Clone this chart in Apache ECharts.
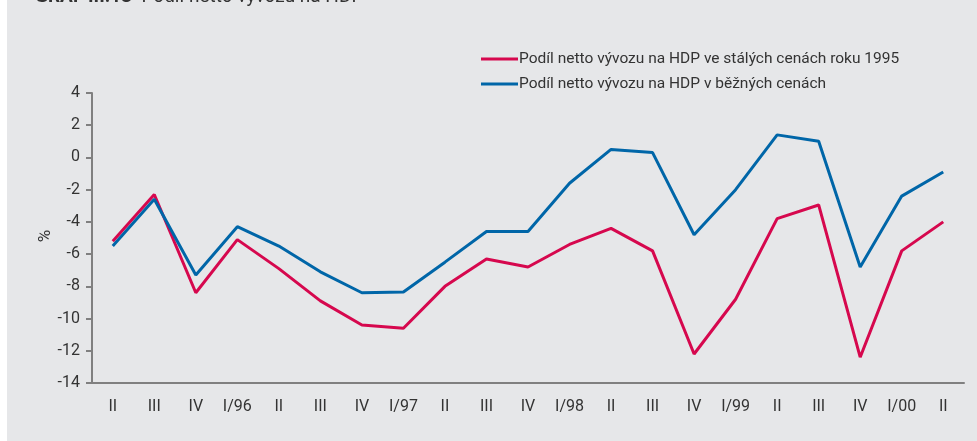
<!DOCTYPE html>
<html>
<head>
<meta charset="utf-8">
<script src="https://cdn.jsdelivr.net/npm/echarts@6/dist/echarts.min.js"></script>
<style>
  html, body { margin: 0; padding: 0; background: #fff; }
  #chart { width: 977px; height: 441px; }
</style>
</head>
<body>
<div id="chart"></div>
<script>
// ctvrtleti 1995 - 2000
const categories = ['II', 'III', 'IV', 'I/96', 'II', 'III', 'IV', 'I/97', 'II', 'III', 'IV',
  'I/98', 'II', 'III', 'IV', 'I/99', 'II', 'III', 'IV', 'I/00', 'II']
const stale = [-5.2, -2.3, -8.4, -5.1, -6.9, -8.9, -10.4, -10.6, -8.0, -6.3, -6.8,
  -5.4, -4.4, -5.8, -12.2, -8.8, -3.8, -2.95, -12.4, -5.8, -4.0]
const bezne = [-5.5, -2.6, -7.3, -4.3, -5.5, -7.1, -8.4, -8.35, -6.5, -4.6, -4.6,
  -1.6, 0.5, 0.3, -4.8, -2.0, 1.4, 1.0, -6.8, -2.4, -0.9]
const seriesNames = ['Podíl netto vývozu na HDP ve stálých cenách roku 1995', 'Podíl netto vývozu na HDP v běžných cenách']

const font = 'Roboto, sans-serif'
const chart = echarts.init(document.getElementById('chart'))
chart.setOption({
  backgroundColor: '#fff',
  animation: false,
  graphic: [
    { type: 'rect', z: -10, shape: { x: 7, y: 0, width: 970, height: 441 }, style: { fill: '#e6e7e9' } },
    {
      type: 'text', left: 35, top: -12,
      style: {
        text: '{b|GRAF III.13}  Podíl netto vývozu na HDP',
        fontSize: 19, fontFamily: font, fill: '#333',
        rich: { b: { fontWeight: 'bold', fontSize: 19, fontFamily: font, fill: '#333' } }
      }
    },
    {
      // popisek osy y
      type: 'text', x: 46, y: 236, rotation: Math.PI / 2,
      style: { text: '%', fontSize: 17, fontFamily: font, fill: '#333', align: 'center', verticalAlign: 'middle' }
    }
  ],
  grid: { left: 92, right: 13, top: 93, bottom: 58 },
  legend: {
    orient: 'vertical', left: 476, top: 46,
    itemWidth: 37, itemHeight: 3, itemGap: 9, icon: 'rect',
    textStyle: { fontSize: 15.5, fontFamily: font, color: '#333', padding: [0, 0, 0, -4] },
    data: seriesNames
  },
  xAxis: {
    type: 'category', data: categories, boundaryGap: true,
    axisLine: { onZero: false, lineStyle: { color: '#808080', width: 2 } },
    axisTick: { length: 5, lineStyle: { color: '#808080', width: 2 } },
    axisLabel: { margin: 16, fontSize: 16, fontFamily: font, color: '#333', interval: 0 }
  },
  yAxis: {
    type: 'value', min: -14, max: 4, interval: 2,
    axisLine: { show: true, lineStyle: { color: '#808080', width: 2 } },
    axisTick: { show: true, length: 6, lineStyle: { color: '#808080', width: 2 } },
    axisLabel: { margin: 12, fontSize: 16, fontFamily: font, color: '#333' },
    splitLine: { show: false }
  },
  series: [
    {
      name: seriesNames[0], type: 'line', data: stale, symbol: 'none',
      lineStyle: { color: '#d6084e', width: 3 }, itemStyle: { color: '#d6084e' }
    },
    {
      name: seriesNames[1], type: 'line', data: bezne, symbol: 'none',
      lineStyle: { color: '#0066a8', width: 3 }, itemStyle: { color: '#0066a8' }
    }
  ]
})
</script>
</body>
</html>
